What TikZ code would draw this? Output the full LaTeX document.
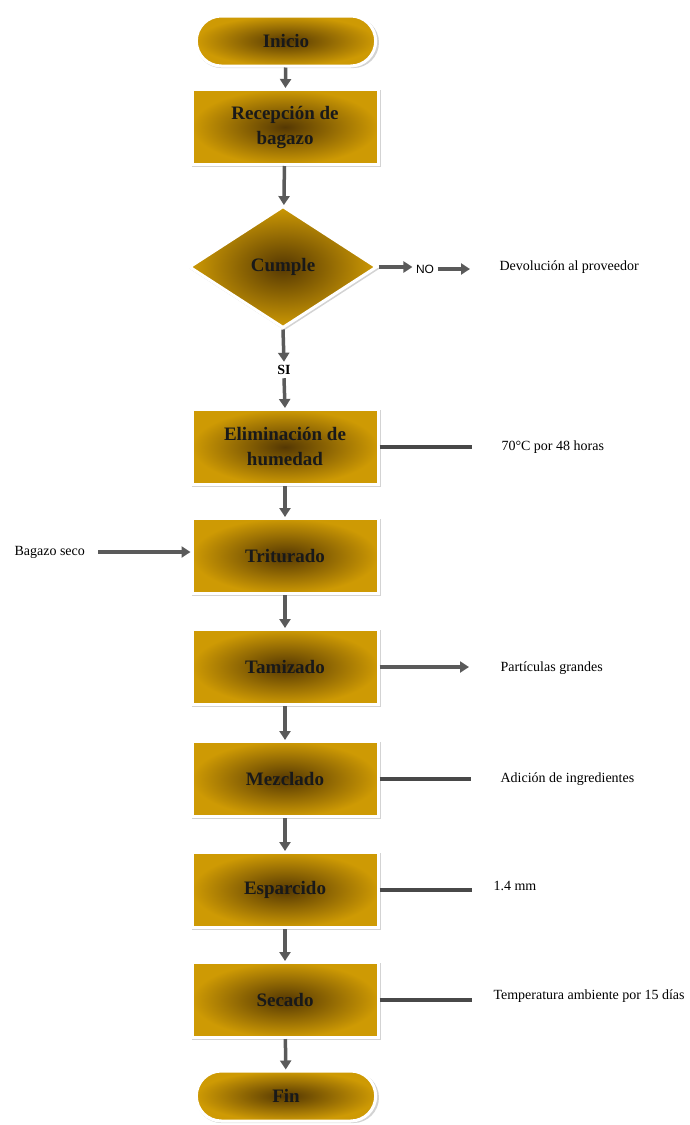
\documentclass[tikz,border=0pt]{standalone}
\usepackage{fontspec}
\setmainfont{Liberation Serif}
\newfontfamily\nofont{Liberation Sans}
\usetikzlibrary{arrows.meta,shapes.geometric,shapes.misc,shadows}

\definecolor{oro}{HTML}{CE9A04}
\definecolor{cafe}{HTML}{553803}
\definecolor{flecha}{HTML}{5A5A5A}

\tikzset{
  caja/.style={shading=radial, inner color=cafe, outer color=oro,
    draw=white, line width=3pt, align=center, text=black!90,
    font=\fontsize{19}{25}\selectfont\bfseries,
    drop shadow={opacity=0.35, shadow xshift=1.5pt, shadow yshift=-1.5pt, shadow scale=1.02}},
  paso/.style={caja, rectangle, minimum width=186pt, minimum height=75pt},
  terminal/.style={caja, rounded rectangle, minimum width=186pt, minimum height=50pt},
  decision/.style={caja, diamond, minimum width=188pt, minimum height=122pt, inner sep=0pt},
  lado/.style={anchor=west, font=\fontsize{14}{17}\selectfont},
  flujo/.style={draw=flecha, line width=3.5pt, -{Triangle[length=9pt,width=11pt]}},
  linea/.style={draw=flecha!80!black, line width=3.5pt}
}

\begin{document}
\begin{tikzpicture}[x=1pt,y=-1pt]
\useasboundingbox (0,0) rectangle (689,1125);
% pasos del proceso
\node[terminal] (ini) at (286,41) {Inicio};
\node[paso] (rec) at (285,127) {Recepción de\\bagazo};
\node[decision] (cum) at (283,267) {Cumple};
\node[paso] (eli) at (285,447) {Eliminación de\\humedad};
\node[paso] (tri) at (285,556) {Triturado};
\node[paso] (tam) at (285,667) {Tamizado};
\node[paso] (mez) at (285,779) {Mezclado};
\node[paso] (esp) at (285,890) {Esparcido};
\node[paso] (sec) at (285,1000) {Secado};
\node[terminal] (fin) at (286,1096) {Fin};
% textos laterales
\node[font=\nofont\fontsize{12}{14}\selectfont] (no) at (425,269) {NO};
\node[font=\fontsize{14}{17}\selectfont\bfseries] (si) at (284,370) {SI};
\node[lado] (dev) at (496,267) {Devolución al proveedor};
\node[lado] (t70) at (498,447) {70°C por 48 horas};
\node[lado] (baz) at (11,552) {Bagazo seco};
\node[lado] (par) at (497,668) {Partículas grandes};
\node[lado] (ing) at (497,779) {Adición de ingredientes};
\node[lado] (mm) at (490,886) {1.4 mm};
\node[lado] (amb) at (490,996) {Temperatura ambiente por 15 días};
% flechas
\draw[flujo] (ini) -- (rec);
\draw[flujo] (rec) -- (cum);
\draw[flujo] (cum.east) -- (no.west |- cum.east);
\draw[flujo] (no.east) -- ([xshift=-26pt]dev.west |- no.east);
\draw[flujo] (cum.south) -- (si.north);
\draw[flujo] (si.south) -- (eli.north);
\draw[flujo] (eli) -- (tri);
\draw[flujo] (tri) -- (tam);
\draw[flujo] (tam) -- (mez);
\draw[flujo] (mez) -- (esp);
\draw[flujo] (esp) -- (sec);
\draw[flujo] (sec) -- (fin);
\draw[flujo, line width=4.5pt, shorten <=10pt] (baz.east) -- (tri.west |- baz.east);
\draw[flujo, line width=4.5pt] (tam.east) -- ([xshift=-28pt]par.west |- tam.east);
\draw[linea] (eli.east) -- ([xshift=-26pt]t70.west |- eli.east);
\draw[linea] (mez.east) -- ([xshift=-26pt]ing.west |- mez.east);
\draw[linea] (esp.east) -- ([xshift=-18pt]mm.west |- esp.east);
\draw[linea] (sec.east) -- ([xshift=-18pt]amb.west |- sec.east);
\end{tikzpicture}
\end{document}
